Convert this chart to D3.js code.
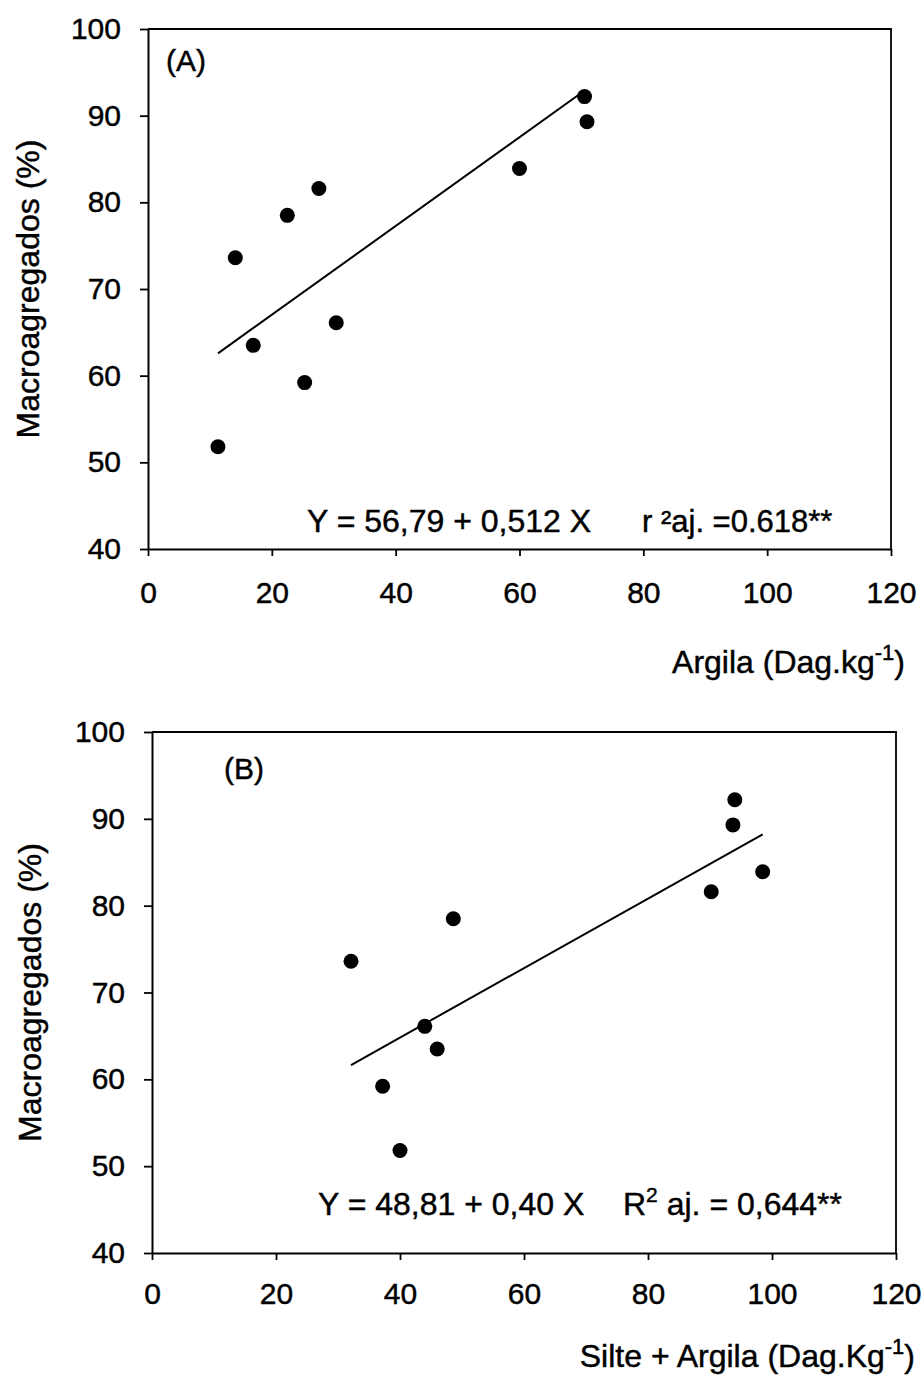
<!DOCTYPE html>
<html>
<head>
<meta charset="utf-8">
<script src="https://cdn.jsdelivr.net/npm/d3@7"></script>
<style>
  body { margin: 0; background: #fff; }
  svg text { font-family: "Liberation Sans", Arial, sans-serif; fill: #000; stroke: #000; stroke-width: 0.45px; }
</style>
</head>
<body>
<svg id="chart" width="924" height="1376"></svg>
<script>
// Macroaggregate percentage for each soil sample
const macroagregados = [51.8, 73.6, 63.5, 78.5, 59.2, 81.6, 66.1, 83.9, 92.2, 89.3];
// Clay content (Dag.kg-1) of the same samples
const argila = [11.3, 14.1, 17.0, 22.5, 25.3, 27.6, 30.4, 60.0, 70.5, 70.9];
// Silt + clay content (Dag.Kg-1) of the same samples
const silteArgila = [40.0, 32.1, 46.0, 48.6, 37.2, 90.2, 44.0, 98.5, 94.0, 93.7];

const xTicks = [0, 20, 40, 60, 80, 100, 120];
const yTicks = [40, 50, 60, 70, 80, 90, 100];

// Fitted regressions: intercept, slope and the x span the line covers
const fitA = [56.79, 0.512, 11.3, 70.3];
const fitB = [48.81, 0.40, 32.1, 98.5];

const svg = d3.select("#chart");
svg.append("rect").attr("width", 924).attr("height", 1376).attr("fill", "#fff");

const FONT = '"Liberation Sans", Arial, sans-serif';

function panel(cfg) {
  const x = d3.scaleLinear().domain([0, 120]).range([cfg.left, cfg.right]);
  const y = d3.scaleLinear().domain([40, 100]).range([cfg.bottom, cfg.top]);
  const g = svg.append("g");

  // frame: top and right edges
  g.append("path")
    .attr("d", `M${x(0)},${y(100)}H${x(120)}V${y(40)}`)
    .attr("fill", "none").attr("stroke", "#000").attr("stroke-width", 1.8);

  const yAxis = g.append("g")
    .attr("transform", `translate(${x(0)},0)`)
    .call(d3.axisLeft(y).tickValues(yTicks).tickSize(8).tickSizeOuter(0).tickPadding(19));
  yAxis.selectAll("text").attr("font-size", 30).style("font-family", FONT);

  const xAxis = g.append("g")
    .attr("transform", `translate(0,${y(40)})`)
    .call(d3.axisBottom(x).tickValues(xTicks).tickSize(7).tickSizeOuter(0).tickPadding(cfg.xPad));
  xAxis.selectAll("text").attr("font-size", 30).style("font-family", FONT);

  g.selectAll(".domain").attr("stroke", "#000").attr("stroke-width", 2);
  g.selectAll(".tick line").attr("stroke", "#000").attr("stroke-width", 1.8);

  // regression line
  const [a, b, x0, x1] = cfg.fit;
  g.append("line")
    .attr("x1", x(x0)).attr("y1", y(a + b * x0))
    .attr("x2", x(x1)).attr("y2", y(a + b * x1))
    .attr("stroke", "#000").attr("stroke-width", 2);

  // samples
  g.selectAll("circle").data(cfg.xs).join("circle")
    .attr("cx", d => x(d))
    .attr("cy", (d, i) => y(macroagregados[i]))
    .attr("r", 7.5)
    .attr("fill", "#000");

  // panel letter
  g.append("text").attr("x", cfg.letterPos[0]).attr("y", cfg.letterPos[1])
    .attr("font-size", 30).text(cfg.letter);

  // y axis title
  g.append("text")
    .attr("transform", `translate(${cfg.yTitleX},${(y(40) + y(100)) / 2}) rotate(-90)`)
    .attr("text-anchor", "middle").attr("font-size", 32)
    .text("Macroagregados (%)");

  // x axis title
  const xt = g.append("text").attr("x", cfg.xTitle[0]).attr("y", cfg.xTitle[1])
    .attr("text-anchor", "end").attr("font-size", 32);
  xt.append("tspan").text(cfg.xLabel);
  xt.append("tspan").attr("font-size", 22).attr("dy", -13).text("-1");
  xt.append("tspan").attr("dy", 13).text(")");

  return { g, x, y };
}

// (A) clay
const A = panel({
  left: 148, right: 891, top: 29, bottom: 549, xPad: 26,
  xs: argila, fit: fitA, letter: "(A)", letterPos: [166, 71],
  yTitleX: 39, xTitle: [905, 673], xLabel: "Argila (Dag.kg"
});
A.g.append("text").attr("x", 307).attr("y", 532).attr("font-size", 32)
  .text("Y = 56,79 + 0,512 X");
A.g.append("text").attr("x", 642).attr("y", 532).attr("font-size", 31)
  .text("r \u00B2aj. =0.618**");

// (B) silt + clay
const B = panel({
  left: 152, right: 896, top: 732, bottom: 1253, xPad: 23,
  xs: silteArgila, fit: fitB, letter: "(B)", letterPos: [224, 779],
  yTitleX: 41, xTitle: [915, 1367], xLabel: "Silte + Argila (Dag.Kg"
});
B.g.append("text").attr("x", 318).attr("y", 1215).attr("font-size", 32)
  .text("Y = 48,81 + 0,40 X");
const r2 = B.g.append("text").attr("x", 623).attr("y", 1215).attr("font-size", 32);
r2.append("tspan").text("R");
r2.append("tspan").attr("font-size", 21).attr("dy", -13).text("2");
r2.append("tspan").attr("dy", 13).text(" aj. = 0,644**");
</script>
</body>
</html>
